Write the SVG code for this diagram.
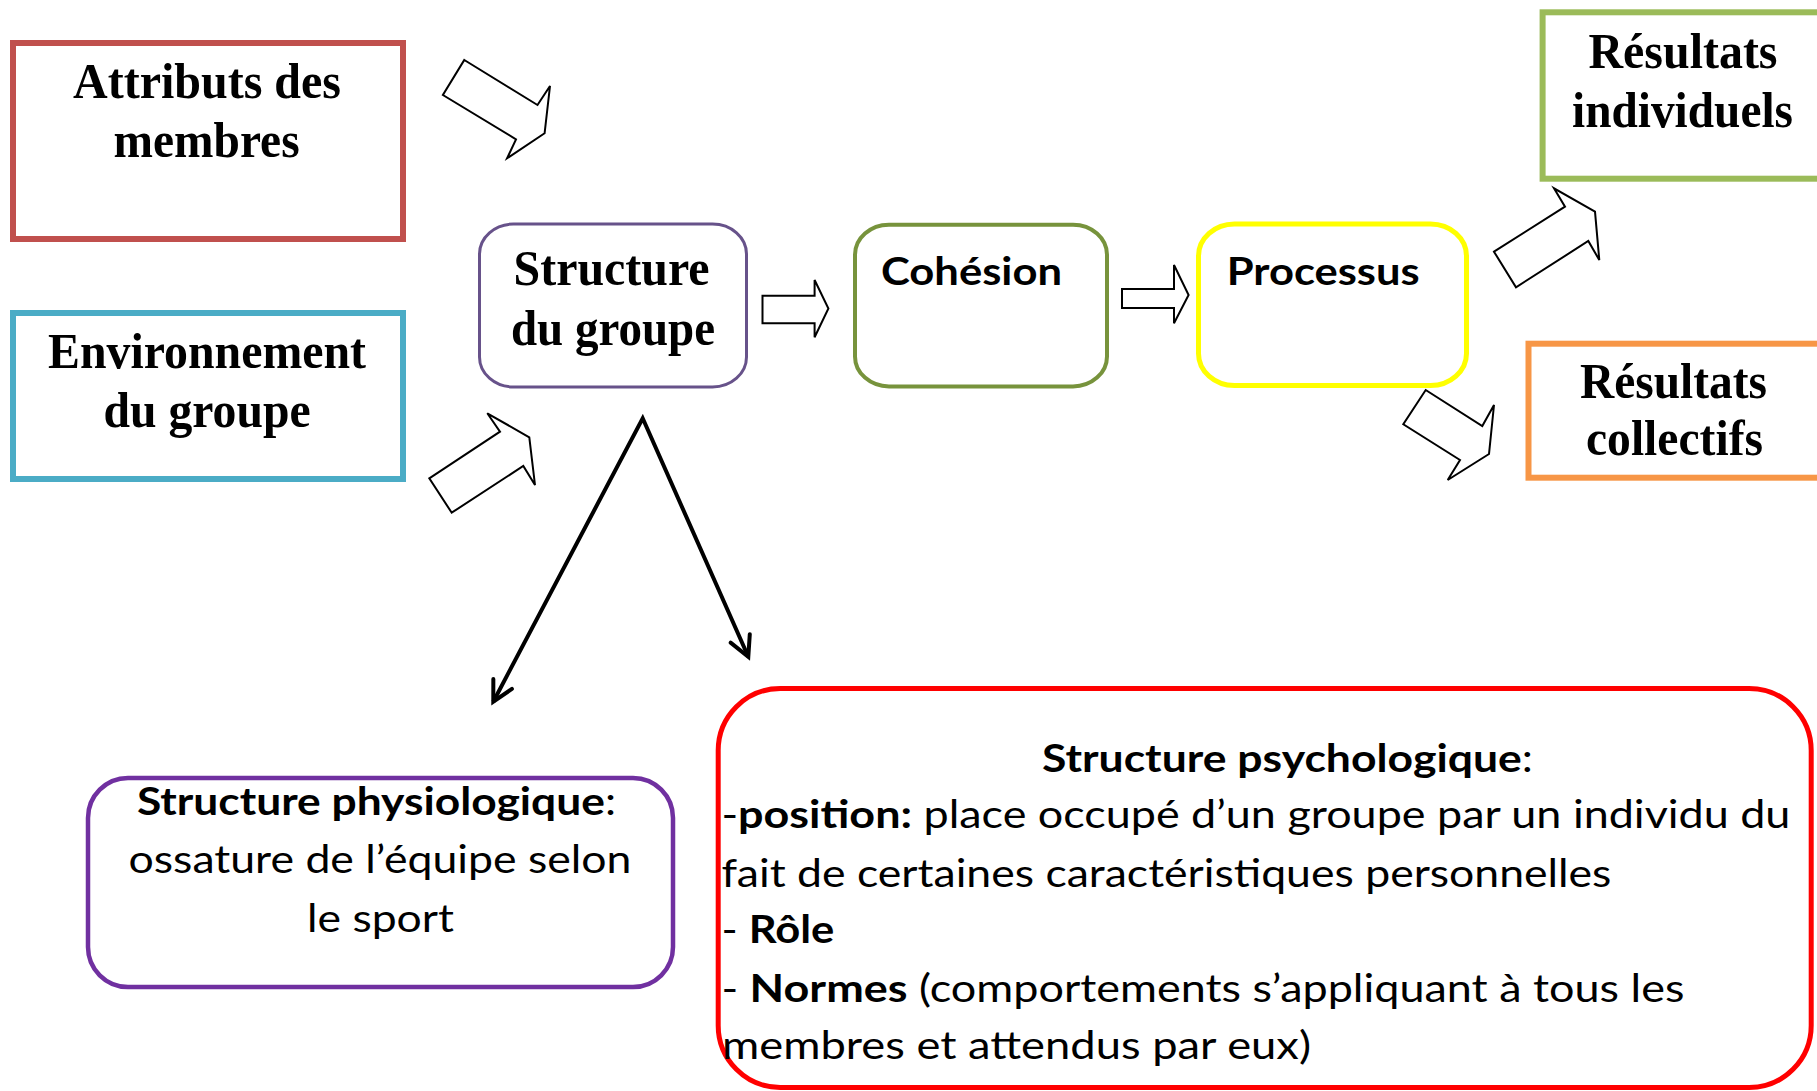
<svg xmlns="http://www.w3.org/2000/svg" width="1817" height="1091" viewBox="0 0 1817 1091">
<style>
.box{fill:#fff}
.tnr{font-family:"Liberation Serif","Times New Roman",serif;font-weight:bold;font-size:51px;fill:#000}
.cal{font-family:Lato,"Open Sans","Liberation Sans",sans-serif;font-size:39px;fill:#000}
.b{font-weight:bold}
.blk{fill:#fff;stroke:#000;stroke-width:2;stroke-linejoin:miter}
</style>
<defs>
<marker id="vhead" markerUnits="userSpaceOnUse" viewBox="-30 -20 40 40" markerWidth="40" markerHeight="40" refX="0" refY="0" orient="auto-start-reverse" overflow="visible">
<path d="M-20,-10.5 L0,0 L-20,10.5" fill="none" stroke="#000" stroke-width="4" stroke-linecap="round"/>
</marker>
</defs>
<rect width="1817" height="1091" fill="#fff"/>

<g id="attributs">
<rect class="box" x="13" y="43" width="390" height="196" stroke="#C0504D" stroke-width="6"/>
<text class="tnr" x="73" y="98" textLength="268" lengthAdjust="spacingAndGlyphs">Attributs des</text>
<text class="tnr" x="113.6" y="157" textLength="186" lengthAdjust="spacingAndGlyphs">membres</text>
</g>

<g id="environnement">
<rect class="box" x="13" y="313" width="390" height="166" stroke="#4BACC6" stroke-width="6"/>
<text class="tnr" x="48" y="368" textLength="318" lengthAdjust="spacingAndGlyphs">Environnement</text>
<text class="tnr" x="103.6" y="427" textLength="207" lengthAdjust="spacingAndGlyphs">du groupe</text>
</g>

<g id="structure">
<rect class="box" x="479.5" y="224" width="267" height="163" rx="34" ry="30" stroke="#67528A" stroke-width="3"/>
<text class="tnr" x="513.6" y="285" textLength="196" lengthAdjust="spacingAndGlyphs">Structure</text>
<text class="tnr" x="511" y="345" textLength="204" lengthAdjust="spacingAndGlyphs">du groupe</text>
</g>

<g id="cohesion">
<rect class="box" x="855" y="224.7" width="252" height="161.7" rx="34" ry="30" stroke="#77933C" stroke-width="4"/>
<text class="cal b" x="881" y="285" textLength="181" lengthAdjust="spacingAndGlyphs">Cohésion</text>
</g>

<g id="processus">
<rect class="box" x="1198.5" y="224" width="268" height="161.5" rx="36" ry="32" stroke="#FFFF00" stroke-width="5"/>
<text class="cal b" x="1226.7" y="285" textLength="193" lengthAdjust="spacingAndGlyphs">Processus</text>
</g>

<g id="resultats-individuels">
<rect class="box" x="1542.6" y="12.3" width="300" height="166.4" stroke="#9BBB59" stroke-width="6"/>
<text class="tnr" x="1588.5" y="68" textLength="189" lengthAdjust="spacingAndGlyphs">Résultats</text>
<text class="tnr" x="1572" y="127" textLength="221" lengthAdjust="spacingAndGlyphs">individuels</text>
</g>

<g id="resultats-collectifs">
<rect class="box" x="1528.5" y="343.7" width="320" height="134" stroke="#F79646" stroke-width="6"/>
<text class="tnr" x="1580" y="398" textLength="187" lengthAdjust="spacingAndGlyphs">Résultats</text>
<text class="tnr" x="1586" y="455" textLength="177" lengthAdjust="spacingAndGlyphs">collectifs</text>
</g>

<g id="structure-physiologique">
<rect class="box" x="88" y="778" width="585" height="209" rx="40" ry="40" stroke="#7030A0" stroke-width="4.5"/>
<text class="cal" x="137" y="815" textLength="479" lengthAdjust="spacingAndGlyphs"><tspan class="b">Structure physiologique</tspan>:</text>
<text class="cal" x="128.5" y="873" textLength="503" lengthAdjust="spacingAndGlyphs">ossature de l’équipe selon</text>
<text class="cal" x="307" y="932" textLength="147" lengthAdjust="spacingAndGlyphs">le sport</text>
</g>

<g id="structure-psychologique">
<rect class="box" x="718.2" y="688.5" width="1093" height="399" rx="62" ry="62" stroke="#FF0000" stroke-width="5"/>
<text class="cal" x="1042" y="772" textLength="491" lengthAdjust="spacingAndGlyphs"><tspan class="b">Structure psychologique</tspan>:</text>
<text class="cal" x="721.4" y="828" textLength="1069" lengthAdjust="spacingAndGlyphs">-<tspan class="b">position:</tspan> place occupé d’un groupe par un individu du</text>
<text class="cal" x="721.4" y="887" textLength="890" lengthAdjust="spacingAndGlyphs">fait de certaines caractéristiques personnelles</text>
<text class="cal" x="721.4" y="943" textLength="113" lengthAdjust="spacingAndGlyphs">- <tspan class="b">Rôle</tspan></text>
<text class="cal" x="721.4" y="1002" textLength="963" lengthAdjust="spacingAndGlyphs">- <tspan class="b">Normes</tspan> (comportements s’appliquant à tous les</text>
<text class="cal" x="722" y="1059" textLength="589" lengthAdjust="spacingAndGlyphs">membres et attendus par eux)</text>
</g>

<g id="connectors">
<polygon class="blk" points="464.3,60 537.5,105 550,86 544.6,133.3 507.1,158.3 516,139.3 442.9,95"/>
<polygon class="blk" points="429.3,478.3 500,431.7 487.3,413.3 529.3,437.3 535,485 523.3,466 451.7,512.7"/>
<polygon class="blk" points="762.5,295.7 814.6,295.7 814.6,280 828.4,308.5 814.6,337.3 814.6,323.3 762.5,323.3"/>
<polygon class="blk" points="1122,289 1174,289 1174,265 1188.6,295 1174,323.3 1174,308 1122,308"/>
<polygon class="blk" points="1494,251.7 1565,206.7 1554,188.3 1595,211.7 1599.3,260 1588.3,241 1516,287.3"/>
<polygon class="blk" points="1425.7,390 1482.3,426 1494,405 1489,454 1447.7,480 1460,460 1403.3,424.3"/>
<path d="M493.3,701.7 L642.7,418.3 L748.3,656.7" fill="none" stroke="#000" stroke-width="4" stroke-linejoin="miter" marker-start="url(#vhead)" marker-end="url(#vhead)"/>
</g>
</svg>
